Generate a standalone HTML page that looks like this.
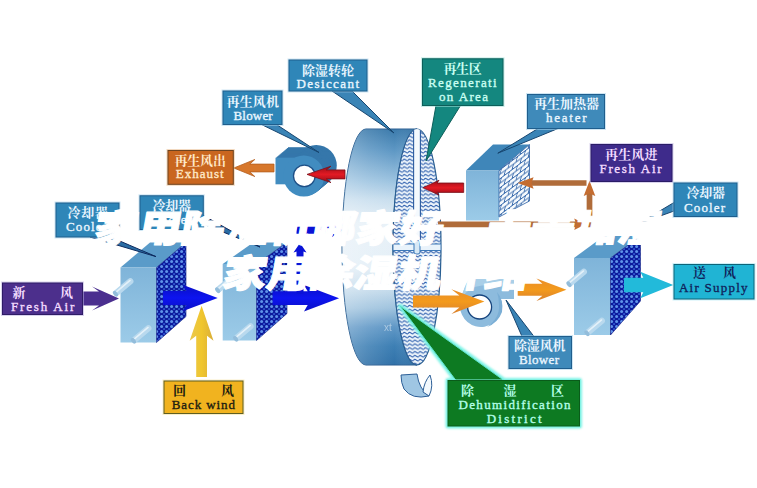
<!DOCTYPE html>
<html lang="zh-CN"><head><meta charset="utf-8"><title>家用除湿机哪家好，卡麦加湿 家用除湿机介绍</title>
<style>
html,body{margin:0;padding:0;background:#fff;}
body{width:757px;height:488px;overflow:hidden;position:relative;font-family:"Liberation Sans","Noto Sans CJK SC",sans-serif;}
svg{position:absolute;left:0;top:0;display:block;}
</style></head><body>
<svg width="757" height="488" viewBox="0 0 757 488">
<defs>
<linearGradient id="gBody" x1="0" y1="0" x2="0" y2="1">
<stop offset="0" stop-color="#3b7aab"/><stop offset="0.09" stop-color="#5d97c4"/><stop offset="0.22" stop-color="#9cc3e0"/><stop offset="0.3" stop-color="#c8deee"/><stop offset="0.4" stop-color="#e8f1f8"/><stop offset="0.58" stop-color="#e4eff7"/><stop offset="0.68" stop-color="#c6dcec"/><stop offset="0.76" stop-color="#9fc3de"/><stop offset="0.84" stop-color="#5f97c6"/><stop offset="0.92" stop-color="#3d7fb4"/><stop offset="1" stop-color="#3071a8"/>
</linearGradient>
<linearGradient id="gBodyH" x1="0" y1="0" x2="1" y2="0"><stop offset="0" stop-color="#ffffff" stop-opacity="0.28"/><stop offset="0.35" stop-color="#ffffff" stop-opacity="0.12"/><stop offset="0.7" stop-color="#ffffff" stop-opacity="0"/><stop offset="1" stop-color="#1f5a90" stop-opacity="0.18"/></linearGradient>
<linearGradient id="gFront" x1="0" y1="0" x2="0" y2="1"><stop offset="0" stop-color="#7fb4d9"/><stop offset="1" stop-color="#9ccbe8"/></linearGradient>
<linearGradient id="gRed" x1="0" y1="0" x2="0" y2="1"><stop offset="0" stop-color="#86101a"/><stop offset="0.28" stop-color="#c4141e"/><stop offset="0.5" stop-color="#e21a24"/><stop offset="0.72" stop-color="#c4141e"/><stop offset="1" stop-color="#86101a"/></linearGradient>
<linearGradient id="gBlue" x1="0" y1="0" x2="0" y2="1"><stop offset="0" stop-color="#0a0fc4"/><stop offset="0.5" stop-color="#0d14f0"/><stop offset="1" stop-color="#0a0fc4"/></linearGradient>
<linearGradient id="gYel" x1="0" y1="0" x2="0" y2="1"><stop offset="0" stop-color="#e9c84f"/><stop offset="0.5" stop-color="#f0c62d"/><stop offset="1" stop-color="#d9ae3a"/></linearGradient>
<linearGradient id="gOr" x1="0" y1="0" x2="0" y2="1"><stop offset="0" stop-color="#e98d2a"/><stop offset="0.5" stop-color="#f39a1c"/><stop offset="1" stop-color="#d9802e"/></linearGradient>
<pattern id="pDots" width="5" height="5" patternUnits="userSpaceOnUse"><rect width="5" height="5" fill="#0c1a9c"/><circle cx="1.6" cy="1.6" r="1.5" fill="#5f93ea"/><circle cx="4.1" cy="4.1" r="1.1" fill="#2f55cf"/></pattern>
<pattern id="pBrick" width="8" height="9" patternUnits="userSpaceOnUse" patternTransform="translate(499,170) skewY(-37)"><rect width="8" height="9" fill="#f6fafd"/><path d="M0 0.5H8M0 5H8M2.500 0.5L1 5M6.500 5L5 9.500" stroke="#2f63a8" stroke-width="0.9" fill="none"/></pattern>
<pattern id="pWave" width="5.3" height="3.850" patternUnits="userSpaceOnUse"><rect width="5.3" height="3.850" fill="#eef5fb"/><path d="M0 2.5Q1.3 0.5 2.650 1.900T5.3 2.5" stroke="#2e5fae" stroke-width="1.05" fill="none"/></pattern>
<filter id="fGlow" x="-10%" y="-10%" width="120%" height="120%"><feGaussianBlur stdDeviation="1.3"/></filter>
<filter id="fBold" x="-2%" y="-10%" width="104%" height="120%"><feOffset in="SourceGraphic" dx="-0.5" dy="0" result="a"/><feOffset in="SourceGraphic" dx="0.5" dy="0" result="b"/><feMerge><feMergeNode in="a"/><feMergeNode in="b"/></feMerge></filter>
<clipPath id="cFace"><ellipse cx="417" cy="247" rx="24" ry="118"/></clipPath>
</defs>
<rect width="757" height="488" fill="#ffffff"/>

<g id="wheel">
<path d="M366 129 L417 129 A24 118 0 0 0 417 365 L366 365 A24 118 0 0 1 366 129Z" fill="url(#gBody)" stroke="#2a5f92" stroke-width="1"/>
<path d="M366 129 L417 129 A24 118 0 0 0 417 365 L366 365 A24 118 0 0 1 366 129Z" fill="url(#gBodyH)"/>
<ellipse cx="417" cy="247" rx="24" ry="118" fill="url(#pWave)" stroke="#2a5f92" stroke-width="1.2"/>
<g clip-path="url(#cFace)">
<rect x="413.6" y="125" width="6.8" height="122" fill="#f4f9fd" stroke="#2a5a9e" stroke-width="1.1"/>
<rect x="393" y="244" width="48" height="6.5" fill="#e9f3fb" stroke="#3c78b8" stroke-width="1"/>
<rect x="414" y="240.5" width="6" height="13.5" rx="2" fill="#d7e8f5" stroke="#3c78b8" stroke-width="1"/>
</g>
<text x="384" y="331" font-family='"Liberation Sans",sans-serif' font-size="10" fill="#ffffff" opacity="0.45">xt</text>
<path d="M401 375 L417 374 Q419 389 429 396 Q412 400 404 389 Q401 383 401 375Z" fill="#9fc6e3" stroke="#2d5f97" stroke-width="1"/>
<path d="M423 392 Q424 382 430 375 Q434 386 429 396Z" fill="#f3f9fd" stroke="#2d5f97" stroke-width="1"/>
</g>
<g id="heater">
<polygon points="466,170.5 499,170.5 529.5,144.5 493,144.5" fill="#3f86b9"/>
<rect x="466" y="170.5" width="33" height="50" fill="url(#gFront)"/>
<polygon points="499,170.5 529.5,144.5 529.5,201 499,217" fill="url(#pBrick)" stroke="#2c5fa3" stroke-width="0.8"/>
</g>
<path d="M438 224.3H578 M589.5 227.3V192 M586.5 183H530" stroke="#b06c3a" stroke-width="5.7" fill="none"/>
<polygon points="517.6,183 533.6,177.3 531.5,183 533.6,188.7" fill="#c46c30"/>
<polygon points="589.5,180.7 583.7,196 589.5,193.5 595.3,196" fill="#c46c30"/>
<polygon points="585.6,224.3 574.2,218.5 576.2,224.3 574.2,230.1" fill="#c46c30"/>
<polygon points="120.5,267.5 156.5,267.5 186.0,242.5 150.0,242.5" fill="#5a9bc9"/><rect x="120.5" y="267.5" width="36.0" height="75.0" fill="url(#gFront)"/><polygon points="156.5,267.5 186.0,242.5 186.0,316.5 156.5,342.5" fill="url(#pDots)" stroke="#0b1a80" stroke-width="0.6"/><g transform="translate(123.5,287.0) rotate(-40)"><rect x="-12" y="-3.2" width="24" height="6.4" rx="3.2" fill="#b9d9ee"/><rect x="-9" y="-1.6" width="19" height="1.6" rx="0.8" fill="#e4f1f9"/><ellipse cx="-10.5" cy="0" rx="2" ry="3.2" fill="#93bddb"/></g><g transform="translate(141.5,334.0) rotate(-40)"><rect x="-12" y="-3.2" width="24" height="6.4" rx="3.2" fill="#b9d9ee"/><rect x="-9" y="-1.6" width="19" height="1.6" rx="0.8" fill="#e4f1f9"/><ellipse cx="-10.5" cy="0" rx="2" ry="3.2" fill="#93bddb"/></g>
<polygon points="222.7,264 256.5,264 287.0,242.5 253.2,242.5" fill="#5a9bc9"/><rect x="222.7" y="264" width="33.80000000000001" height="76.5" fill="url(#gFront)"/><polygon points="256.5,264 287.0,242.5 287.0,313.5 256.5,340.5" fill="url(#pDots)" stroke="#0b1a80" stroke-width="0.6"/><g transform="translate(225.7,283.5) rotate(-40)"><rect x="-12" y="-3.2" width="24" height="6.4" rx="3.2" fill="#b9d9ee"/><rect x="-9" y="-1.6" width="19" height="1.6" rx="0.8" fill="#e4f1f9"/><ellipse cx="-10.5" cy="0" rx="2" ry="3.2" fill="#93bddb"/></g><g transform="translate(243.7,332.0) rotate(-40)"><rect x="-12" y="-3.2" width="24" height="6.4" rx="3.2" fill="#b9d9ee"/><rect x="-9" y="-1.6" width="19" height="1.6" rx="0.8" fill="#e4f1f9"/><ellipse cx="-10.5" cy="0" rx="2" ry="3.2" fill="#93bddb"/></g>
<polygon points="574,258 610.5,258 640.5,236 604,236" fill="#5a9bc9"/><rect x="574" y="258" width="36.5" height="77" fill="url(#gFront)"/><polygon points="610.5,258 640.5,236 640.5,301 610.5,335" fill="url(#pDots)" stroke="#0b1a80" stroke-width="0.6"/><g transform="translate(577,277.5) rotate(-40)"><rect x="-12" y="-3.2" width="24" height="6.4" rx="3.2" fill="#b9d9ee"/><rect x="-9" y="-1.6" width="19" height="1.6" rx="0.8" fill="#e4f1f9"/><ellipse cx="-10.5" cy="0" rx="2" ry="3.2" fill="#93bddb"/></g><g transform="translate(595,326.5) rotate(-40)"><rect x="-12" y="-3.2" width="24" height="6.4" rx="3.2" fill="#b9d9ee"/><rect x="-9" y="-1.6" width="19" height="1.6" rx="0.8" fill="#e4f1f9"/><ellipse cx="-10.5" cy="0" rx="2" ry="3.2" fill="#93bddb"/></g>
<g id="blowerTop"><g transform="translate(12.50,-10.50)" fill="#3577ab"><rect x="275.5" y="157.7" width="20" height="26.6"/><circle cx="303.8" cy="176" r="20.5"/></g><g transform="translate(11.54,-9.69)" fill="#3577ab"><rect x="275.5" y="157.7" width="20" height="26.6"/><circle cx="303.8" cy="176" r="20.5"/></g><g transform="translate(10.58,-8.88)" fill="#3577ab"><rect x="275.5" y="157.7" width="20" height="26.6"/><circle cx="303.8" cy="176" r="20.5"/></g><g transform="translate(9.62,-8.08)" fill="#3577ab"><rect x="275.5" y="157.7" width="20" height="26.6"/><circle cx="303.8" cy="176" r="20.5"/></g><g transform="translate(8.65,-7.27)" fill="#3577ab"><rect x="275.5" y="157.7" width="20" height="26.6"/><circle cx="303.8" cy="176" r="20.5"/></g><g transform="translate(7.69,-6.46)" fill="#3577ab"><rect x="275.5" y="157.7" width="20" height="26.6"/><circle cx="303.8" cy="176" r="20.5"/></g><g transform="translate(6.73,-5.65)" fill="#3577ab"><rect x="275.5" y="157.7" width="20" height="26.6"/><circle cx="303.8" cy="176" r="20.5"/></g><g transform="translate(5.77,-4.85)" fill="#3577ab"><rect x="275.5" y="157.7" width="20" height="26.6"/><circle cx="303.8" cy="176" r="20.5"/></g><g transform="translate(4.81,-4.04)" fill="#3577ab"><rect x="275.5" y="157.7" width="20" height="26.6"/><circle cx="303.8" cy="176" r="20.5"/></g><g transform="translate(3.85,-3.23)" fill="#3577ab"><rect x="275.5" y="157.7" width="20" height="26.6"/><circle cx="303.8" cy="176" r="20.5"/></g><g transform="translate(2.88,-2.42)" fill="#3577ab"><rect x="275.5" y="157.7" width="20" height="26.6"/><circle cx="303.8" cy="176" r="20.5"/></g><g transform="translate(1.92,-1.62)" fill="#3577ab"><rect x="275.5" y="157.7" width="20" height="26.6"/><circle cx="303.8" cy="176" r="20.5"/></g><g transform="translate(0.96,-0.81)" fill="#3577ab"><rect x="275.5" y="157.7" width="20" height="26.6"/><circle cx="303.8" cy="176" r="20.5"/></g><g fill="#418cc0"><rect x="275.5" y="157.7" width="20" height="26.6"/><circle cx="303.8" cy="176" r="20.5"/></g><circle cx="304.3" cy="175.9" r="10.8" fill="#ffffff" stroke="#1d4f86" stroke-width="1.3"/></g>
<g id="blowerBot">
<path d="M469 279 L514 279 L514 299 L500.8 299 A21 21 0 1 1 460 306 Q460 297 463.500 291Z" fill="#8dbbdd"/>
<path d="M469 279 L514 279 L514 284 L482 285.5 Q468 287 462 298 Q463 288 469 279Z" fill="#a9cfe8"/>
<path d="M497 292 Q504 300 502 312 Q498 323 487 327 Q500 318 499 305 Q499 298 497 292Z" fill="#7aaed5"/>
<circle cx="479.6" cy="307" r="12" fill="#ffffff" stroke="#17457e" stroke-width="1.3"/>
</g>
<polygon transform="translate(82.5,298.5) rotate(0.00)" points="0.0,-7.0 16.5,-7.0 9.5,-12.0 36.5,0.0 9.5,12.0 16.5,7.0 0.0,7.0" fill="#4b2f8f" />
<polygon transform="translate(163,298) rotate(0.00)" points="0.0,-7.0 23.3,-7.0 19.6,-13.2 54.7,0.0 19.6,13.2 23.3,7.0 0.0,7.0" fill="url(#gBlue)" />
<polygon transform="translate(272.6,298.2) rotate(0.00)" points="0.0,-6.9 35.1,-6.9 31.4,-13.2 66.5,0.0 31.4,13.2 35.1,6.9 0.0,6.9" fill="url(#gBlue)" />
<path d="M300 294V250 M296.5 230.2H334" stroke="#0a12d6" stroke-width="7" fill="none"/><polygon points="300,243 293.5,252.500 300,250.5 306.500,252.500" fill="#0a12d6"/><polygon points="343,230.2 332,223.5 334,230.2 332,237" fill="#0a12d6"/>
<polygon transform="translate(201.6,377) rotate(-90.00)" points="0.0,-5.4 41.3,-5.4 36.3,-11.9 71.3,0.0 36.3,11.9 41.3,5.4 0.0,5.4" fill="url(#gYel)" />
<polygon transform="translate(274,168) rotate(180.00)" points="0.0,-3.9 24.2,-3.9 19.2,-8.5 40.2,0.0 19.2,8.5 24.2,3.9 0.0,3.9" fill="#d7772b" stroke="#b5601f" stroke-width="0.8" stroke-linejoin="round" />
<polygon transform="translate(345,174.4) rotate(180.00)" points="0.0,-4.5 18.7,-4.5 14.0,-8.2 38.0,0.0 14.0,8.2 18.7,4.5 0.0,4.5" fill="url(#gRed)" stroke="#7a101a" stroke-width="0.8" stroke-linejoin="round" />
<polygon transform="translate(463.7,187.7) rotate(180.00)" points="0.0,-4.7 26.7,-4.7 24.7,-7.4 40.7,0.0 24.7,7.4 26.7,4.7 0.0,4.7" fill="url(#gRed)" stroke="#7a101a" stroke-width="0.8" stroke-linejoin="round" />
<polygon transform="translate(413,301.6) rotate(0.00)" points="0.0,-6.0 46.4,-6.0 38.4,-12.3 71.4,0.0 38.4,12.3 46.4,6.0 0.0,6.0" fill="url(#gOr)" />
<polygon transform="translate(517.7,289.7) rotate(0.00)" points="0.0,-6.0 24.7,-6.0 18.7,-11.3 48.7,0.0 18.7,11.3 24.7,6.0 0.0,6.0" fill="url(#gOr)" />
<polygon transform="translate(624,285) rotate(0.00)" points="0.0,-7.3 19.3,-7.3 16.3,-13.3 49.3,0.0 16.3,13.3 19.3,7.3 0.0,7.3" fill="#22bada" />
<polygon points="332,91 352,91 394,133" fill="#3a84b6" stroke="#17456f" stroke-width="1" stroke-linejoin="round"/><rect x="287.5" y="58.5" width="81" height="34" fill="#a8d2ea" opacity="0.55"/><rect x="289" y="60" width="78" height="31" fill="#2f86b8" stroke="#1f5e8d" stroke-width="1"/><text x="302" y="74.5" textLength="52.0" lengthAdjust="spacing" font-family='"Liberation Serif","Noto Serif CJK SC",serif' font-size="13" font-weight="700" fill="#eaf6ff" xml:space="preserve">除湿转轮</text><text x="296.5" y="87.5" textLength="62.5" lengthAdjust="spacing" font-family='"Liberation Serif","Noto Serif CJK SC",serif' font-size="13" font-weight="400" fill="#eaf6ff" stroke="#eaf6ff" stroke-width="0.35" xml:space="preserve">Desiccant</text>
<polygon points="261.5,124.5 276.5,124.5 319,152.5" fill="#3a84b6" stroke="#17456f" stroke-width="1" stroke-linejoin="round"/><rect x="221.5" y="89.5" width="62" height="36.5" fill="#a8d2ea" opacity="0.55"/><rect x="223" y="91" width="59" height="33.5" fill="#2f86b8" stroke="#1f5e8d" stroke-width="1"/><text x="226.5" y="105.5" textLength="52.5" lengthAdjust="spacing" font-family='"Liberation Serif","Noto Serif CJK SC",serif' font-size="13" font-weight="700" fill="#eaf6ff" xml:space="preserve">再生风机</text><text x="233.5" y="119.5" textLength="39.2" lengthAdjust="spacing" font-family='"Liberation Serif","Noto Serif CJK SC",serif' font-size="13" font-weight="400" fill="#eaf6ff" stroke="#eaf6ff" stroke-width="0.35" xml:space="preserve">Blower</text>
<polygon points="436,105.5 460.5,105.5 426,161" fill="#14877f" stroke="#0d5f5a" stroke-width="1" stroke-linejoin="round"/><rect x="421.0" y="57.3" width="83.5" height="49.7" fill="#9fe0d8" opacity="0.55"/><rect x="422.5" y="58.8" width="80.5" height="46.7" fill="#14877f" stroke="#0d5f5a" stroke-width="1"/><text x="443.5" y="73" textLength="38.2" lengthAdjust="spacing" font-family='"Liberation Serif","Noto Serif CJK SC",serif' font-size="13" font-weight="700" fill="#c9fff2" xml:space="preserve">再生区</text><text x="428" y="87" textLength="68.7" lengthAdjust="spacing" font-family='"Liberation Serif","Noto Serif CJK SC",serif' font-size="13" font-weight="400" fill="#c9fff2" stroke="#c9fff2" stroke-width="0.35" xml:space="preserve">Regenerati</text><text x="439" y="101" textLength="49.0" lengthAdjust="spacing" font-family='"Liberation Serif","Noto Serif CJK SC",serif' font-size="13" font-weight="400" fill="#c9fff2" stroke="#c9fff2" stroke-width="0.35" xml:space="preserve">on Area</text>
<polygon points="538,128.5 558,128.5 497.8,153.2" fill="#3a84b6" stroke="#17456f" stroke-width="1" stroke-linejoin="round"/><rect x="526.0" y="93.0" width="80.0" height="37.0" fill="#a8d2ea" opacity="0.55"/><rect x="527.5" y="94.5" width="77.0" height="34.0" fill="#3f8aba" stroke="#1f5e8d" stroke-width="1"/><text x="534" y="107.5" textLength="65.0" lengthAdjust="spacing" font-family='"Liberation Serif","Noto Serif CJK SC",serif' font-size="13" font-weight="700" fill="#eaf6ff" xml:space="preserve">再生加热器</text><text x="546" y="122" textLength="40.5" lengthAdjust="spacing" font-family='"Liberation Serif","Noto Serif CJK SC",serif' font-size="13" font-weight="400" fill="#eaf6ff" stroke="#eaf6ff" stroke-width="0.35" xml:space="preserve">heater</text>
<rect x="589.5" y="143.0" width="84" height="40.0" fill="#b9aee0" opacity="0.55"/><rect x="591" y="144.5" width="81" height="37.0" fill="#3e2b8b" stroke="#2a1c66" stroke-width="1"/><text x="605" y="158.5" textLength="52.5" lengthAdjust="spacing" font-family='"Liberation Serif","Noto Serif CJK SC",serif' font-size="13" font-weight="700" fill="#f3dcff" xml:space="preserve">再生风进</text><text x="599.5" y="172.5" textLength="62.0" lengthAdjust="spacing" font-family='"Liberation Serif","Noto Serif CJK SC",serif' font-size="13" font-weight="400" fill="#f3dcff" stroke="#f3dcff" stroke-width="0.35" xml:space="preserve">Fresh Air</text>
<polygon points="674,202.5 674,211 638,224" fill="#3a84b6" stroke="#17456f" stroke-width="1" stroke-linejoin="round"/><rect x="672.5" y="181.5" width="66" height="36.5" fill="#a8d2ea" opacity="0.55"/><rect x="674" y="183" width="63" height="33.5" fill="#2f86b8" stroke="#1f5e8d" stroke-width="1"/><text x="686.5" y="197" textLength="38.5" lengthAdjust="spacing" font-family='"Liberation Serif","Noto Serif CJK SC",serif' font-size="13" font-weight="700" fill="#eaf6ff" xml:space="preserve">冷却器</text><text x="684" y="211.5" textLength="41.0" lengthAdjust="spacing" font-family='"Liberation Serif","Noto Serif CJK SC",serif' font-size="13" font-weight="400" fill="#eaf6ff" stroke="#eaf6ff" stroke-width="0.35" xml:space="preserve">Cooler</text>
<rect x="672.5" y="263.0" width="83" height="37.5" fill="#a6e6f2" opacity="0.55"/><rect x="674" y="264.5" width="80" height="34.5" fill="#20b4d4" stroke="#0d6478" stroke-width="1"/><text x="693" y="277" textLength="14.0" lengthAdjust="spacing" font-family='"Liberation Serif","Noto Serif CJK SC",serif' font-size="13" font-weight="700" fill="#10245c" xml:space="preserve">送</text><text x="723" y="277" textLength="14.0" lengthAdjust="spacing" font-family='"Liberation Serif","Noto Serif CJK SC",serif' font-size="13" font-weight="700" fill="#10245c" xml:space="preserve">风</text><text x="679" y="291.5" textLength="68.5" lengthAdjust="spacing" font-family='"Liberation Serif","Noto Serif CJK SC",serif' font-size="13" font-weight="400" fill="#10245c" stroke="#10245c" stroke-width="0.35" xml:space="preserve">Air Supply</text>
<polygon points="522,336.5 534,336.5 506,300" fill="#3a84b6" stroke="#17456f" stroke-width="1" stroke-linejoin="round"/><rect x="507.5" y="335.0" width="65.5" height="35.0" fill="#a8d2ea" opacity="0.55"/><rect x="509" y="336.5" width="62.5" height="32.0" fill="#3f8aba" stroke="#1f5e8d" stroke-width="1"/><text x="514" y="349.5" textLength="51.5" lengthAdjust="spacing" font-family='"Liberation Serif","Noto Serif CJK SC",serif' font-size="13" font-weight="700" fill="#eaf6ff" xml:space="preserve">除湿风机</text><text x="519" y="363.5" textLength="40.0" lengthAdjust="spacing" font-family='"Liberation Serif","Noto Serif CJK SC",serif' font-size="13" font-weight="400" fill="#eaf6ff" stroke="#eaf6ff" stroke-width="0.35" xml:space="preserve">Blower</text>
<g filter="url(#fGlow)" fill="#7df3e6" stroke="#7df3e6" stroke-width="5" stroke-linejoin="round"><rect x="448" y="380.5" width="131.5" height="45.5"/><polygon points="456,380.5 504,380.5 400.3,306.3"/></g>
<polygon points="456,380.5 504,380.5 400.3,306.3" fill="#0d7a22" stroke="#5fe0c8" stroke-width="1" stroke-linejoin="round"/><rect x="446.5" y="379.0" width="134.5" height="48.5" fill="#7ff0e0" opacity="0.55"/><rect x="448" y="380.5" width="131.5" height="45.5" fill="#0d7a22" stroke="#0a5c1a" stroke-width="1"/><text x="461" y="394.7" textLength="14.0" lengthAdjust="spacing" font-family='"Liberation Serif","Noto Serif CJK SC",serif' font-size="13" font-weight="700" fill="#b4ffe9" xml:space="preserve">除</text><text x="503.5" y="394.7" textLength="14.0" lengthAdjust="spacing" font-family='"Liberation Serif","Noto Serif CJK SC",serif' font-size="13" font-weight="700" fill="#b4ffe9" xml:space="preserve">湿</text><text x="551" y="394.7" textLength="14.0" lengthAdjust="spacing" font-family='"Liberation Serif","Noto Serif CJK SC",serif' font-size="13" font-weight="700" fill="#b4ffe9" xml:space="preserve">区</text><text x="458.5" y="408.5" textLength="112.0" lengthAdjust="spacing" font-family='"Liberation Serif","Noto Serif CJK SC",serif' font-size="13" font-weight="400" fill="#b4ffe9" stroke="#b4ffe9" stroke-width="0.35" xml:space="preserve">Dehumidification</text><text x="486.7" y="423" textLength="55.0" lengthAdjust="spacing" font-family='"Liberation Serif","Noto Serif CJK SC",serif' font-size="13" font-weight="400" fill="#b4ffe9" stroke="#b4ffe9" stroke-width="0.35" xml:space="preserve">District</text>
<rect x="162.5" y="379.5" width="82" height="35.5" fill="#f6e29a" opacity="0.55"/><rect x="164" y="381" width="79" height="32.5" fill="#f1b31f" stroke="#5e5e22" stroke-width="1"/><text x="173" y="394.6" textLength="13.0" lengthAdjust="spacing" font-family='"Liberation Serif","Noto Serif CJK SC",serif' font-size="13" font-weight="700" fill="#1c1c10" xml:space="preserve">回</text><text x="221" y="394.6" textLength="13.0" lengthAdjust="spacing" font-family='"Liberation Serif","Noto Serif CJK SC",serif' font-size="13" font-weight="700" fill="#1c1c10" xml:space="preserve">风</text><text x="171.7" y="408.7" textLength="63.3" lengthAdjust="spacing" font-family='"Liberation Serif","Noto Serif CJK SC",serif' font-size="13" font-weight="400" fill="#1c1c10" stroke="#1c1c10" stroke-width="0.35" xml:space="preserve">Back wind</text>
<rect x="1.0" y="281.5" width="83.0" height="34.5" fill="#b9aee0" opacity="0.55"/><rect x="2.5" y="283" width="80.0" height="31.5" fill="#4c2f8c" stroke="#2f1c66" stroke-width="1"/><text x="12.5" y="296.7" textLength="13.0" lengthAdjust="spacing" font-family='"Liberation Serif","Noto Serif CJK SC",serif' font-size="13" font-weight="700" fill="#f3dcff" xml:space="preserve">新</text><text x="60" y="296.7" textLength="13.0" lengthAdjust="spacing" font-family='"Liberation Serif","Noto Serif CJK SC",serif' font-size="13" font-weight="700" fill="#f3dcff" xml:space="preserve">风</text><text x="11" y="310.8" textLength="63.3" lengthAdjust="spacing" font-family='"Liberation Serif","Noto Serif CJK SC",serif' font-size="13" font-weight="400" fill="#f3dcff" stroke="#f3dcff" stroke-width="0.35" xml:space="preserve">Fresh Air</text>
<rect x="166.5" y="149.0" width="68.30000000000001" height="36.80000000000001" fill="#e8b98c" opacity="0.55"/><rect x="168" y="150.5" width="65.30000000000001" height="33.80000000000001" fill="#c9661f" stroke="#6e4420" stroke-width="1"/><text x="174.4" y="164.8" textLength="51.6" lengthAdjust="spacing" font-family='"Liberation Serif","Noto Serif CJK SC",serif' font-size="13" font-weight="700" fill="#ffe9c8" xml:space="preserve">再生风出</text><text x="175.8" y="177.7" textLength="47.9" lengthAdjust="spacing" font-family='"Liberation Serif","Noto Serif CJK SC",serif' font-size="13" font-weight="400" fill="#ffe9c8" stroke="#ffe9c8" stroke-width="0.35" xml:space="preserve">Exhaust</text>
<polygon points="90,237 110.5,237 156,256.6" fill="#2a6ca3" stroke="#0e2a5e" stroke-width="1" stroke-linejoin="round"/><rect x="54.5" y="201.5" width="66" height="37" fill="#a8d2ea" opacity="0.55"/><rect x="56" y="203" width="63" height="34" fill="#2f86b8" stroke="#1f5e8d" stroke-width="1"/><text x="67.5" y="217" textLength="40.5" lengthAdjust="spacing" font-family='"Liberation Serif","Noto Serif CJK SC",serif' font-size="13" font-weight="700" fill="#eaf6ff" xml:space="preserve">冷却器</text><text x="66" y="230.5" textLength="41.0" lengthAdjust="spacing" font-family='"Liberation Serif","Noto Serif CJK SC",serif' font-size="13" font-weight="400" fill="#eaf6ff" stroke="#eaf6ff" stroke-width="0.35" xml:space="preserve">Cooler</text>
<polygon points="203.3,215.5 203.3,224 260,247" fill="#2a6ca3" stroke="#0e2a5e" stroke-width="1" stroke-linejoin="round"/><rect x="138.5" y="194.3" width="66.30000000000001" height="36.69999999999999" fill="#a8d2ea" opacity="0.55"/><rect x="140" y="195.8" width="63.30000000000001" height="33.69999999999999" fill="#2f86b8" stroke="#1f5e8d" stroke-width="1"/><text x="152.5" y="209.5" textLength="38.5" lengthAdjust="spacing" font-family='"Liberation Serif","Noto Serif CJK SC",serif' font-size="13" font-weight="700" fill="#eaf6ff" xml:space="preserve">冷却器</text><text x="151" y="224" textLength="41.0" lengthAdjust="spacing" font-family='"Liberation Serif","Noto Serif CJK SC",serif' font-size="13" font-weight="400" fill="#eaf6ff" stroke="#eaf6ff" stroke-width="0.35" xml:space="preserve">Cooler</text>
<text transform="translate(92,241.5) skewX(-10) scale(1.156,1)" x="0" y="0" font-family='"Liberation Sans","Noto Sans CJK SC",sans-serif' font-weight="900" font-size="37.8" letter-spacing="0.00" stroke="#ffffff" stroke-width="1.1" stroke-linejoin="round" fill="#ffffff">家用除湿机哪家好，卡麦加湿</text>
<text transform="translate(221,287.3) skewX(-10) scale(1.156,1)" x="0" y="0" font-family='"Liberation Sans","Noto Sans CJK SC",sans-serif' font-weight="900" font-size="37.8" letter-spacing="0.00" stroke="#ffffff" stroke-width="1.1" stroke-linejoin="round" fill="#ffffff">家用除湿机介绍</text>
</svg>
</body></html>
